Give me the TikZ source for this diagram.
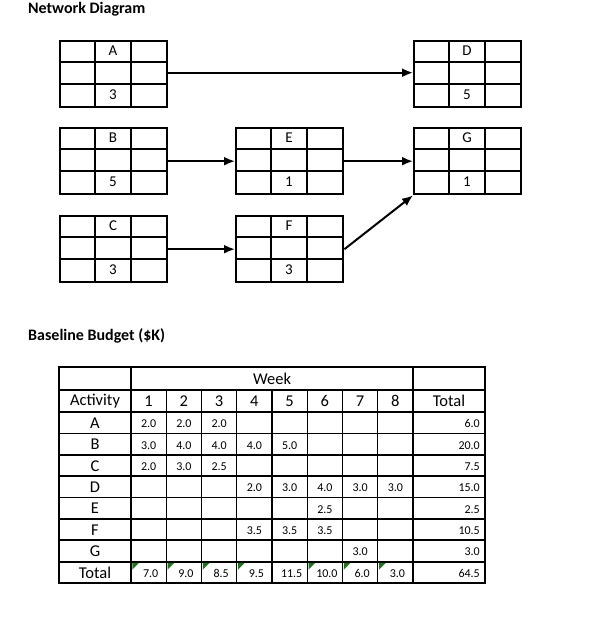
\documentclass[tikz,border=0pt]{standalone}
\usepackage{fontspec}
\setmainfont{Carlito}
\usetikzlibrary{arrows.meta}
\definecolor{flaggreen}{RGB}{30,115,30}

\tikzset{
	actframe/.style = {draw, line width=2.4pt, minimum width=107pt, minimum height=66pt, inner sep=0pt, anchor=north west},
	boxrule/.style = {line width=2pt},
	boxsep/.style = {line width=1.2pt},
	link/.style = {line width=2pt, -{Latex[length=11pt,width=9pt]}},
	boxtxt/.style = {font=\fontsize{15}{17}\selectfont, inner sep=0pt},
	heading/.style = {font=\bfseries\fontsize{16}{18}\selectfont, anchor=west, inner sep=0pt},
	head/.style = {font=\fontsize{16.5}{18}\selectfont, inner sep=0pt},
	cellval/.style = {font=\fontsize{12}{14}\selectfont, inner sep=0pt},
	tabout/.style = {line width=2.4pt},
	tabrow/.style = {line width=1.8pt},
	tabcol/.style = {line width=1.2pt}
}

% activity box: name, left, top, label, duration
\newcommand{\actbox}[5]{
	\draw[boxrule] (#2,#3+22) -- ++(107,0) (#2,#3+44) -- ++(107,0);
	\draw[boxsep] (#2+36,#3) -- ++(0,66) (#2+72,#3) -- ++(0,66);
	\node[actframe] (#1) at (#2,#3) {};
	\node[boxtxt] (#1name) at (#2+54,#3+11) {#4};
	\node[boxtxt] (#1dur) at (#2+54,#3+55) {#5};
}

\begin{document}
\begin{tikzpicture}[x=1pt, y=-1pt]
\useasboundingbox (0,0) rectangle (594,617);

% network diagram
\node[heading] (nettitle) at (28,9) {Network Diagram};
\actbox{A}{59}{40}{A}{3}
\actbox{B}{59}{127}{B}{5}
\actbox{C}{59}{215}{C}{3}
\actbox{E}{235}{127}{E}{1}
\actbox{F}{235}{215}{F}{3}
\actbox{D}{413}{40}{D}{5}
\actbox{G}{413}{127}{G}{1}
\draw[link] ([yshift=1.5pt]A.east) -- ([yshift=1.5pt]D.west);
\draw[link] (B.east) -- (E.west);
\draw[link] (E.east) -- (G.west);
\draw[link] (C.east) -- (F.west);
\draw[link] (F.east) -- (G.south west);

% budget table
\node[heading] (budgettitle) at (28,336) {Baseline Budget (\$K)};
\foreach \y in {390,412,433.4,454.75,476.1,497.5,518.9,540.25,561.6}
	\draw[tabrow] (59,\y) -- (485,\y);
\draw[tabrow] (131,367) -- (131,583) (413,367) -- (413,583);
\foreach \j in {1,...,7}
	\draw[tabcol] (131+35.25*\j,390) -- (131+35.25*\j,583);
\draw[tabout] (59,367) rectangle (485,583);

\node[head] (week) at (272,378.5) {Week};
\node[head] (activity) at (95,401) {Activity};
\foreach \j in {1,...,8}
	\node[head] (wk\j) at (131+35.25*\j-17.6,401) {\j};
\node[head] (totalhead) at (449,401) {Total};
\foreach \a [count=\i] in {A,B,C,D,E,F,G}
	\node[head] (act\a) at (95,412+21.375*\i-10.2) {\a};
\node[head] (totalrow) at (95,572.5) {Total};

\foreach \i/\j/\v in {1/1/2.0, 1/2/2.0, 1/3/2.0,
		2/1/3.0, 2/2/4.0, 2/3/4.0, 2/4/4.0, 2/5/5.0,
		3/1/2.0, 3/2/3.0, 3/3/2.5,
		4/4/2.0, 4/5/3.0, 4/6/4.0, 4/7/3.0, 4/8/3.0,
		5/6/2.5,
		6/4/3.5, 6/5/3.5, 6/6/3.5,
		7/7/3.0}
	\node[cellval] (val\i-\j) at (131+35.25*\j-17.6,412+21.375*\i-9.5) {\v};
\foreach \j/\v in {1/7.0, 2/9.0, 3/8.5, 4/9.5, 5/11.5, 6/10.0, 7/6.0, 8/3.0}
	\node[cellval] (sum\j) at (131+35.25*\j-15.6,573.5) {\v};
\foreach \i/\v in {1/6.0, 2/20.0, 3/7.5, 4/15.0, 5/2.5, 6/10.5, 7/3.0, 8/64.5}
	\node[cellval, anchor=east] (tot\i) at (480,412+21.375*\i-9.5) {\v};
\foreach \j in {1,2,3,4,6,7,8}
	\fill[flaggreen] (131+35.25*\j-34,563) -- ++(6.5,0) -- ++(-6.5,6.5) -- cycle;
\end{tikzpicture}
\end{document}
